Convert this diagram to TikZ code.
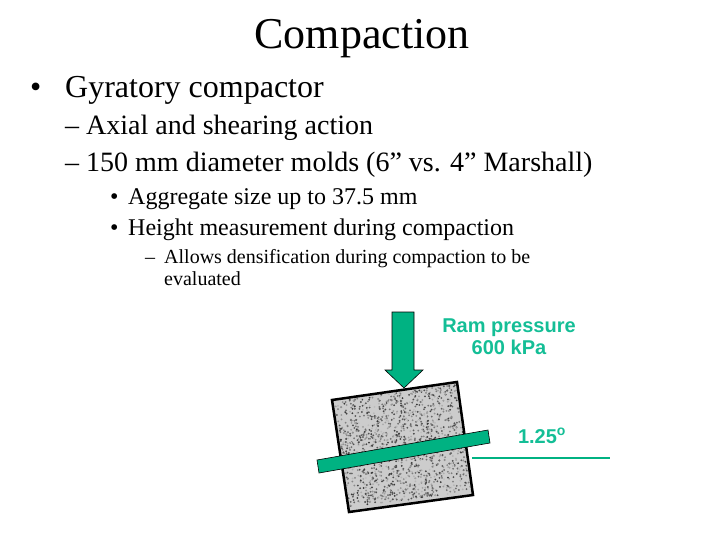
\documentclass[tikz,border=0pt]{standalone}
\usepackage{fontspec}
\setmainfont{Liberation Serif}
\newfontfamily\arialf{Liberation Sans}
\definecolor{teal1}{RGB}{0,178,130}
\definecolor{teal2}{RGB}{20,190,150}
\begin{document}
\begin{tikzpicture}[x=1pt,y=-1pt,
  txt/.style={anchor=base west,inner sep=0pt},
  lone/.style={txt,font=\fontsize{32}{34}\selectfont},
  ltwo/.style={txt,font=\fontsize{28}{30}\selectfont},
  lthree/.style={txt,font=\fontsize{24}{26}\selectfont},
  lfour/.style={txt,font=\fontsize{20}{22}\selectfont},
  lab/.style={inner sep=0pt,text=teal2,font=\arialf\bfseries\fontsize{20}{22}\selectfont,align=center}]
\useasboundingbox (0,0) rectangle (720,540);
\node[inner sep=0pt,anchor=base,font=\fontsize{44}{48}\selectfont] (title) at (362,49) {Compaction};
\node[lone] (b1) at (30,98) {•};
\node[lone] (t1) at (65,98) {Gyratory compactor};
\node[ltwo] (d1) at (65,135) {– Axial and shearing action};
\node[ltwo] (d2) at (65,172) {– 150 mm diameter molds (6” vs. 4” Marshall)};
\node[lthree] (b2) at (110,205) {•};
\node[lthree] (t2) at (128,205) {Aggregate size up to 37.5 mm};
\node[lthree] (b3) at (110,236) {•};
\node[lthree] (t3) at (128,236) {Height measurement during compaction};
\node[lfour] (d3) at (145,263) {–};
\node[lfour] (t4) at (164,263) {Allows densification during compaction to be};
\node[lfour] (t5) at (164,285) {evaluated};
% block
\fill[gray!40] (332,400) -- (457,382) -- (473,495) -- (349,512) -- cycle;
\pgfmathsetseed{7}
\foreach \i in {1,...,1400}{
  \pgfmathsetmacro{\u}{rnd}\pgfmathsetmacro{\v}{rnd}\pgfmathsetmacro{\s}{int(25+55*rnd)}
  \fill[black!\s] ({335+\u*122+\v*14},{401-\u*17+\v*107}) circle (1.0);
}
\draw[black,line width=2.5pt] (332,400) -- (457,382) -- (473,495) -- (349,512) -- cycle;
% bar
\fill[teal1,draw=black,line width=0.6pt] (317,460) -- (488,430) -- (490,443) -- (319,473) -- cycle;
\coordinate (ls) at (472,458);
\coordinate (le) at (610,458);
\draw[teal1,line width=2.5pt] (ls) -- (le);
% arrow
\fill[teal1,draw=black,line width=0.6pt] (392,312) -- (414,312) -- (414,370) -- (423,370) -- (404,388) -- (385,370) -- (392,370) -- cycle;
\node[lab] (ram) at (509,337) {Ram pressure\\600 kPa};
\node[lab,anchor=base] (ang) at (542,443) {1.25\textsuperscript{o}};
\end{tikzpicture}
\end{document}
